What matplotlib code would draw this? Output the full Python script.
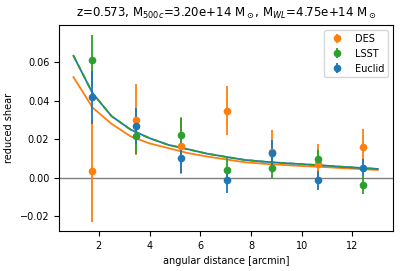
import matplotlib
matplotlib.use('Agg')
import matplotlib.pyplot as plt

# model curves
r_model = [1.0, 1.75, 2.5, 3.25, 4.0, 4.75, 5.5, 6.25, 7.0, 7.75, 8.5,
           9.25, 10.0, 10.75, 11.5, 12.25, 13.0]
g_des_model = [0.0523, 0.0365, 0.0280, 0.0215, 0.0178, 0.0153, 0.0128, 0.0110,
               0.0095, 0.0080, 0.0072, 0.0066, 0.0060, 0.0056, 0.0050, 0.0045, 0.0040]
g_deep_model = [0.0634, 0.0440, 0.0320, 0.0250, 0.0205, 0.0170, 0.0148, 0.0125,
                0.0108, 0.0092, 0.0083, 0.0076, 0.0070, 0.0064, 0.0057, 0.0051, 0.0045]

# binned measurements
r_bins = [1.74, 3.46, 5.24, 7.04, 8.84, 10.63, 12.43]
g_des = [0.0036, 0.0301, 0.0165, 0.0349, 0.0135, 0.0071, 0.0161]
e_des = [0.0265, 0.0185, 0.0148, 0.0128, 0.0113, 0.0104, 0.0091]
g_lsst = [0.0611, 0.0214, 0.0222, 0.0038, 0.0052, 0.0097, -0.0040]
e_lsst = [0.0132, 0.0092, 0.0088, 0.0063, 0.0055, 0.0048, 0.0047]
g_euclid = [0.0417, 0.0269, 0.0103, -0.0014, 0.0130, -0.0014, 0.0052]
e_euclid = [0.0140, 0.0092, 0.0080, 0.0067, 0.0065, 0.0050, 0.0046]

fig = plt.figure(figsize=(4.07, 2.71), dpi=100)
ax = fig.add_axes([0.145, 0.1476, 0.8206, 0.76])

ax.axhline(0, color='gray', lw=1)
ax.plot(r_model, g_des_model, color='C1', lw=1.3)
ax.plot(r_model, g_deep_model, color='C0', lw=1.3)
ax.plot(r_model, g_deep_model, color='C2', lw=1.3, ls=(0, (3, 2.5)))

ax.errorbar(r_bins, g_des, yerr=e_des, fmt='o', color='C1', ms=4.5, lw=1.3, label='DES')
ax.errorbar(r_bins, g_lsst, yerr=e_lsst, fmt='o', color='C2', ms=4.5, lw=1.3, label='LSST')
ax.errorbar(r_bins, g_euclid, yerr=e_euclid, fmt='o', color='C0', ms=4.5, lw=1.3, label='Euclid')

ax.set_xlim(0.43, 13.6)
ax.set_ylim(-0.0278, 0.0794)
ax.set_xticks([2, 4, 6, 8, 10, 12])
ax.set_yticks([-0.02, 0.0, 0.02, 0.04, 0.06])
ax.tick_params(labelsize=7)
ax.set_xlabel('angular distance [arcmin]', fontsize=7)
ax.set_ylabel('reduced shear', fontsize=7)
ax.set_title(r'z=0.573, M$_{500c}$=3.20e+14 M$_\odot$, M$_{WL}$=4.75e+14 M$_\odot$',
             fontsize=8.5)
ax.legend(loc='upper right', fontsize=7)

fig.savefig('out.png', dpi=100)
